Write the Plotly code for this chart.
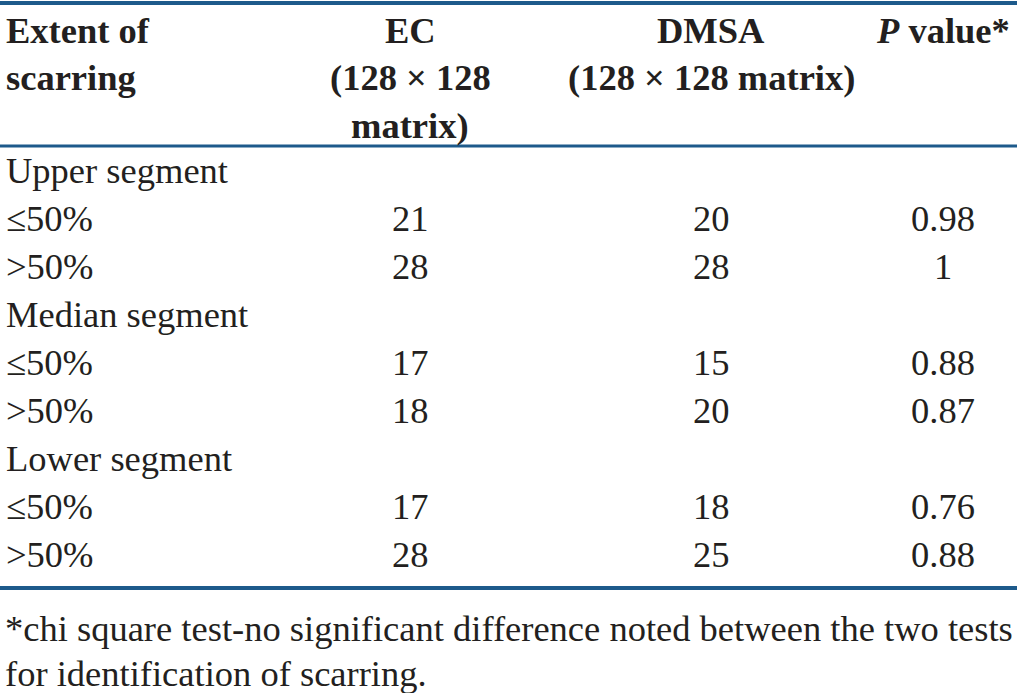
import plotly.graph_objects as go

# table content
header_cols = ["Extent of<br>scarring", "EC<br>(128 × 128<br>matrix)",
               "DMSA<br>(128 × 128 matrix)", "<i>P</i> value*"]
row_labels = ["Upper segment", "≤50%", ">50%",
              "Median segment", "≤50%", ">50%",
              "Lower segment", "≤50%", ">50%"]
ec_vals = ["", "21", "28", "", "17", "18", "", "17", "28"]
dmsa_vals = ["", "20", "28", "", "15", "20", "", "18", "25"]
p_vals = ["", "0.98", "1", "", "0.88", "0.87", "", "0.76", "0.88"]
footnote = ["*chi square test-no significant difference noted between the two tests",
            "for identification of scarring."]

W, H = 1017, 693
FONT = "Liberation Serif, Times New Roman, serif"
TXT = "#231f20"
LINE = "#1d5a8b"
FS = 36.5

col_x = [4, 410, 711, 943]
row_y0, row_dy = 170, 48

fig = go.Figure()
fig.add_trace(go.Scatter(x=[0, W], y=[0, H], mode="markers",
                         marker=dict(opacity=0), hoverinfo="skip", showlegend=False))

ann = []
# header lines, each line placed separately for tight spacing
for j, h in enumerate(header_cols):
    for k, part in enumerate(h.split("<br>")):
        ann.append(dict(x=col_x[j], y=30 + 47.5 * k, text="<b>" + part + "</b>",
                        xanchor="left" if j == 0 else "center", yanchor="middle"))

for i, lab in enumerate(row_labels):
    y = row_y0 + row_dy * i
    ann.append(dict(x=col_x[0], y=y, text=lab, xanchor="left", yanchor="middle"))
    for j, v in zip([1, 2, 3], [ec_vals[i], dmsa_vals[i], p_vals[i]]):
        if v:
            ann.append(dict(x=col_x[j], y=y, text=v, xanchor="center", yanchor="middle"))

for k, t in enumerate(footnote):
    ann.append(dict(x=3, y=628 + 45 * k, text=t, xanchor="left", yanchor="middle"))

for a in ann:
    a.update(xref="x", yref="y", showarrow=False,
             font=dict(family=FONT, size=FS, color=TXT))

shapes = [
    dict(type="line", x0=0, x1=W, y0=3, y1=3, line=dict(color=LINE, width=4)),
    dict(type="line", x0=0, x1=W, y0=146, y1=146, line=dict(color=LINE, width=3)),
    dict(type="line", x0=0, x1=W, y0=588, y1=588, line=dict(color=LINE, width=4)),
]
for s in shapes:
    s.update(xref="x", yref="y")

fig.update_layout(
    width=W, height=H,
    margin=dict(l=0, r=0, t=0, b=0),
    paper_bgcolor="white", plot_bgcolor="white",
    xaxis=dict(range=[0, W], visible=False, fixedrange=True),
    yaxis=dict(range=[H, 0], visible=False, fixedrange=True),
    annotations=ann, shapes=shapes,
)

fig.write_html("out.html", config={"displayModeBar": False},
               post_script="document.body.style.margin='0';")
